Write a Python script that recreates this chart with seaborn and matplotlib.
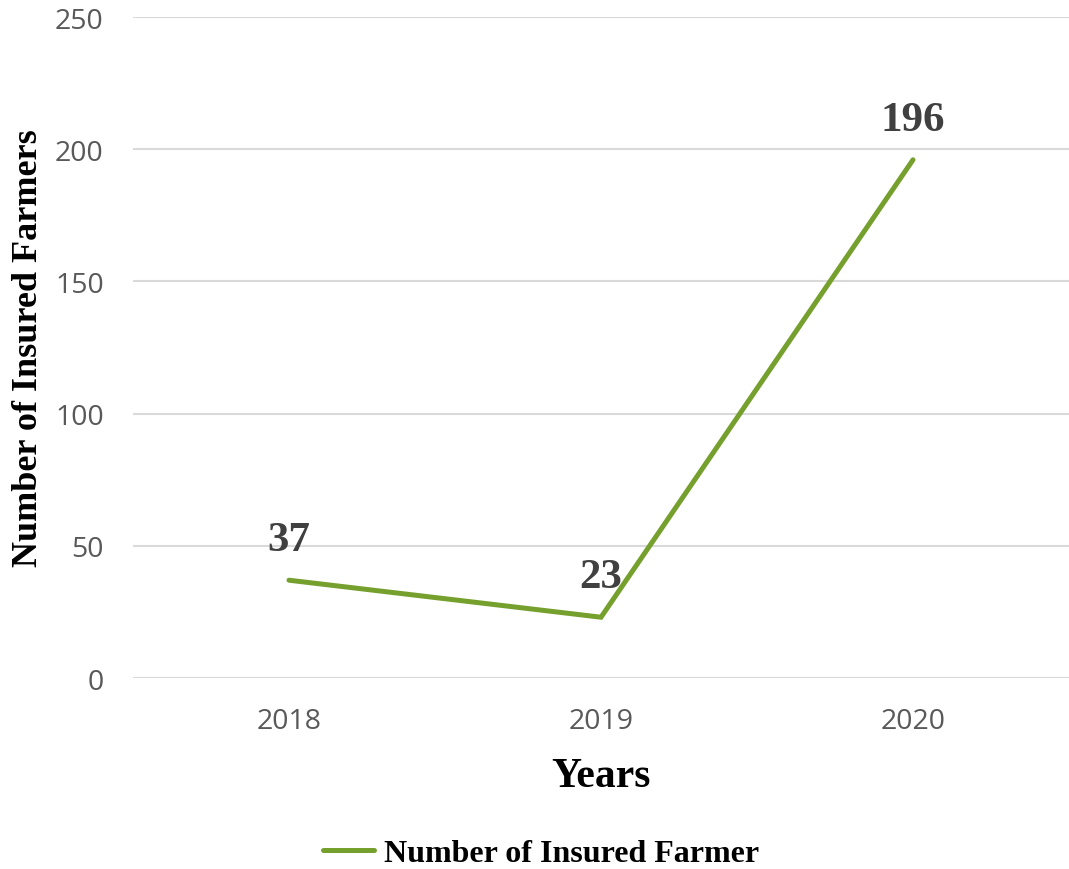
import matplotlib
matplotlib.use("Agg")
import matplotlib.pyplot as plt
import seaborn as sns
import pandas as pd

years = ["2018", "2019", "2020"]
insured_farmers = [37, 23, 196]
series_name = "Number of Insured Farmer"
y_ticks = [0, 50, 100, 150, 200, 250]

df = pd.DataFrame({"Year": years, "Farmers": insured_farmers})

sns.set_theme(style="white")
plt.rcParams["font.family"] = ["Open Sans", "DejaVu Sans"]

line_color = "#76A02E"
tick_color = "#595959"
label_color = "#404040"

fig = plt.figure(figsize=(10.69, 8.70), dpi=100)
ax = fig.add_axes([0.1244, 0.2195, 0.8756, 0.7598])

sns.lineplot(data=df, x="Year", y="Farmers", ax=ax, color=line_color,
             linewidth=3.6, sort=False, label=series_name,
             solid_capstyle="round", solid_joinstyle="miter")

ax.set_xlim(-0.5, 2.5)
ax.set_ylim(0, 250)
ax.set_yticks(y_ticks)
ax.yaxis.grid(True, color="#D9D9D9", linewidth=1.5)
ax.set_axisbelow(True)
for s in ax.spines.values():
    s.set_visible(False)
ax.tick_params(axis="both", length=0, labelsize=20.5, labelcolor=tick_color)
ax.tick_params(axis="y", pad=21)
ax.tick_params(axis="x", pad=21)

serif = ["Liberation Serif", "DejaVu Serif"]
ax.set_xlabel("Years", family=serif, fontweight="bold", fontsize=30,
              color="black", labelpad=16)
ax.set_ylabel("Number of Insured Farmers", family=serif, fontweight="bold",
              fontsize=26, color="black")
ax.yaxis.set_label_coords(-0.094, 0.5)

for i, v in enumerate(insured_farmers):
    ax.annotate(str(v), (i, v), xytext=(0, 29), textcoords="offset points",
                ha="center", va="center", family=serif, fontweight="bold",
                fontsize=31, color=label_color)

leg = fig.legend(loc="center", bbox_to_anchor=(0.506, 0.018), frameon=False,
                 prop={"family": serif, "weight": "bold", "size": 23},
                 labelcolor="black", handlelength=1.6, handletextpad=0.3)
ax.get_legend().remove()

fig.savefig("out.png", dpi=100)
